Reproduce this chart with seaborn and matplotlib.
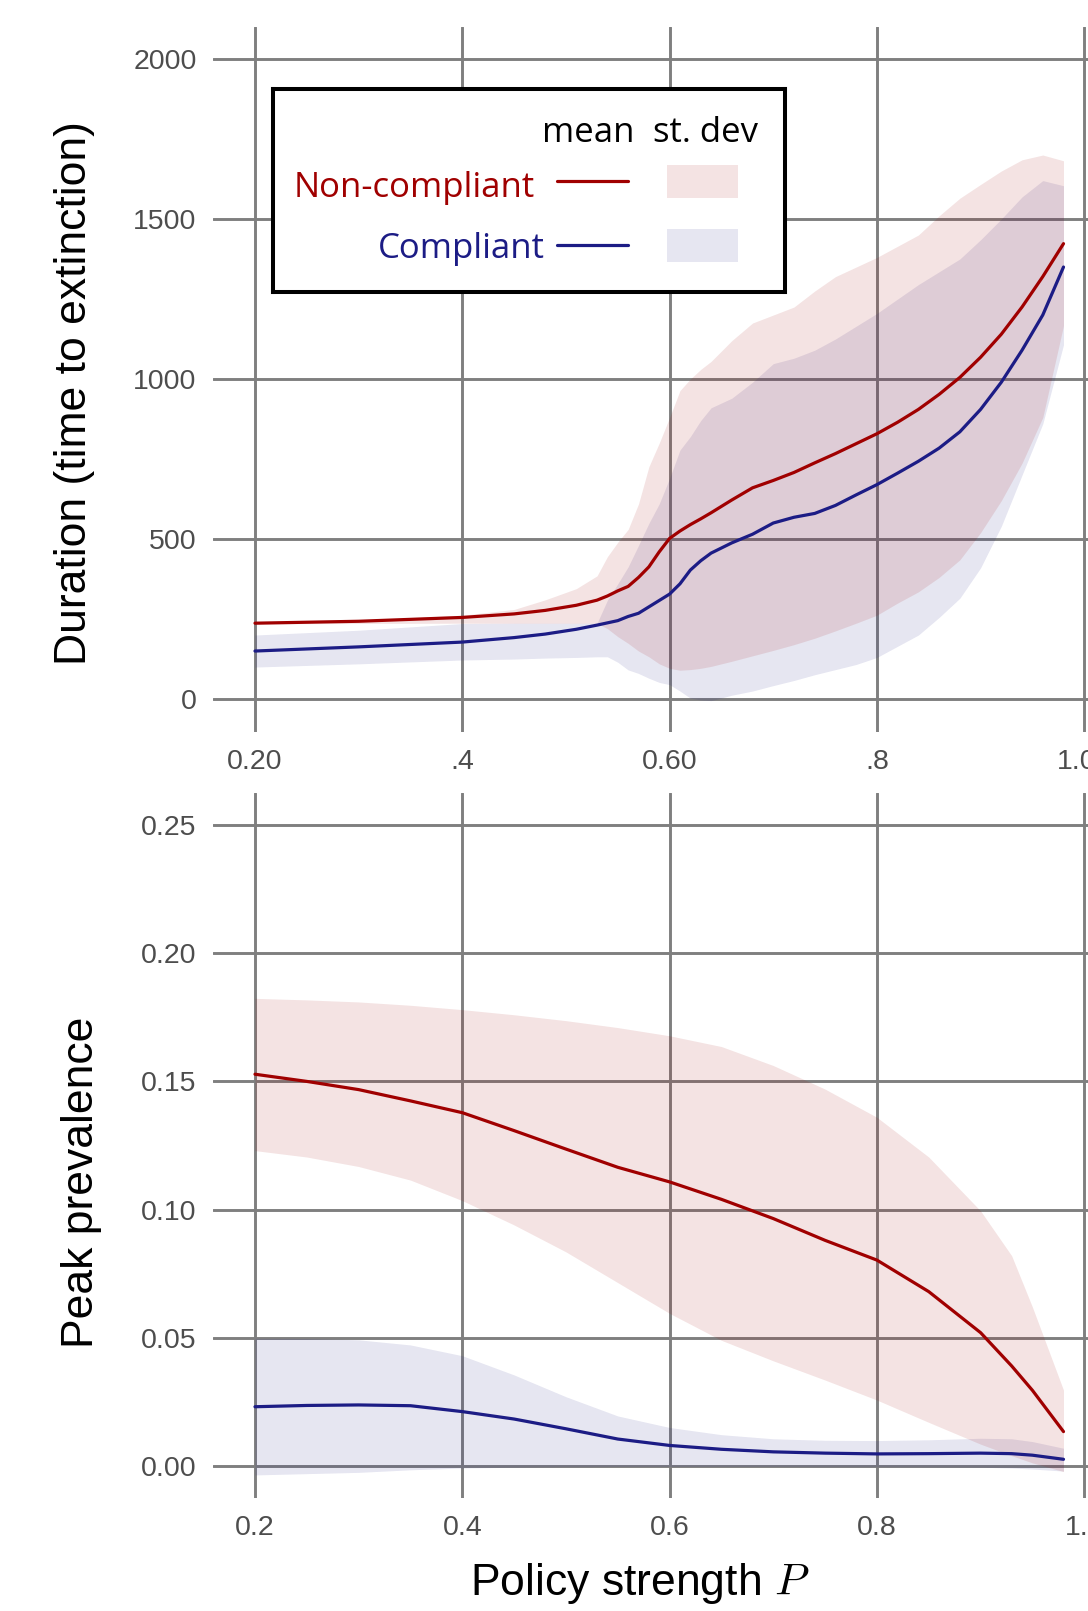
import matplotlib
matplotlib.use("Agg")
import matplotlib.pyplot as plt
import seaborn as sns
from matplotlib.patches import Rectangle
from matplotlib.lines import Line2D

# ---- duration panel (time to extinction) ----
p_dur = [0.20, 0.30, 0.40, 0.45, 0.48, 0.51, 0.53, 0.54, 0.55, 0.56, 0.57, 0.58,
         0.59, 0.60, 0.61, 0.62, 0.63, 0.64, 0.66, 0.68, 0.70, 0.72, 0.74, 0.76,
         0.78, 0.80, 0.82, 0.84, 0.86, 0.88, 0.90, 0.92, 0.94, 0.96, 0.98]
dur_nc_mean = [237, 243, 255, 266, 277, 293, 309, 322, 338, 352, 380, 413,
               460, 502, 525, 545, 563, 582, 622, 660, 683, 708, 738, 767,
               798, 829, 865, 905, 952, 1005, 1068, 1140, 1225, 1320, 1423]
dur_nc_hi = [240, 246, 262, 280, 310, 345, 385, 445, 490, 530, 610, 726,
             800, 880, 964, 1000, 1030, 1055, 1120, 1175, 1200, 1225, 1275, 1320,
             1350, 1380, 1415, 1450, 1510, 1565, 1608, 1650, 1685, 1700, 1682]
dur_nc_lo = [235, 236, 237, 237, 237, 237, 237, 220, 195, 174, 150, 132,
             110, 96, 90, 92, 96, 102, 118, 135, 152, 170, 190, 213,
             237, 262, 300, 335, 380, 435, 520, 620, 737, 880, 1167]
dur_c_mean = [150, 163, 178, 192, 203, 218, 231, 238, 245, 258, 268, 288,
              308, 328, 360, 403, 432, 456, 488, 515, 550, 568, 580, 605,
              638, 670, 706, 743, 784, 835, 905, 990, 1090, 1200, 1350]
dur_c_hi = [200, 215, 236, 237, 237, 237, 237, 309, 360, 413, 480, 549,
            610, 690, 778, 820, 870, 910, 940, 990, 1048, 1065, 1090, 1125,
            1165, 1205, 1250, 1295, 1335, 1375, 1435, 1500, 1569, 1620, 1604]
dur_c_lo = [100, 110, 122, 125, 128, 130, 132, 132, 115, 91, 80, 65,
            52, 45, 25, 3, -3, -5, 12, 25, 42, 58, 76, 92,
            108, 130, 165, 200, 255, 315, 410, 540, 700, 860, 1107]

# ---- peak prevalence panel ----
p_peak = [0.20, 0.25, 0.30, 0.35, 0.40, 0.45, 0.50, 0.55, 0.60, 0.65, 0.70,
          0.75, 0.80, 0.85, 0.90, 0.93, 0.95, 0.98]
peak_nc_mean = [0.1528, 0.1500, 0.1468, 0.1424, 0.1378, 0.1308, 0.1236, 0.1165,
                0.1108, 0.1040, 0.0965, 0.0880, 0.0803, 0.0680, 0.0520, 0.0390,
                0.0295, 0.0134]
peak_nc_hi = [0.1824, 0.1818, 0.1810, 0.1797, 0.1780, 0.1760, 0.1737, 0.1710,
              0.1678, 0.1636, 0.1562, 0.1470, 0.1360, 0.1205, 0.0995, 0.0820,
              0.0620, 0.0296]
peak_nc_lo = [0.1230, 0.1205, 0.1168, 0.1115, 0.1035, 0.0940, 0.0835, 0.0715,
              0.0595, 0.0490, 0.0410, 0.0335, 0.0257, 0.0170, 0.0085, 0.0040,
              0.0012, -0.0022]
peak_c_mean = [0.0231, 0.0236, 0.0238, 0.0235, 0.0212, 0.0183, 0.0145, 0.0105,
               0.0080, 0.0065, 0.0055, 0.0050, 0.0047, 0.0048, 0.0050, 0.0048,
               0.0042, 0.0026]
peak_c_hi = [0.0498, 0.0497, 0.0492, 0.0472, 0.0430, 0.0355, 0.0270, 0.0195,
             0.0150, 0.0122, 0.0106, 0.0100, 0.0099, 0.0102, 0.0108, 0.0106,
             0.0095, 0.0069]
peak_c_lo = [-0.0035, -0.0030, -0.0025, -0.0015, -0.0008, -0.0005, -0.0003, -0.0002,
             -0.0002, -0.0002, -0.0002, -0.0003, -0.0003, -0.0004, -0.0005, -0.0008,
             -0.0012, -0.0020]

x_ticks = [0.2, 0.4, 0.6, 0.8, 1.0]
x_labels_top = ["0.20", ".4", "0.60", ".8", "1.00"]
x_labels_bot = ["0.2", "0.4", "0.6", "0.8", "1.0"]
y_ticks_top = [0, 500, 1000, 1500, 2000]
y_ticks_bot = [0.00, 0.05, 0.10, 0.15, 0.20, 0.25]

RED = "#a00000"
BLUE = "#1c1c85"
GRID = "#7f7f7f"
TICK = "#333333"
LABEL = "#4d4d4d"
BAND_ALPHA = 0.11

sns.set_theme(style="white")
plt.rcParams["font.family"] = ["Liberation Sans", "DejaVu Sans"]
plt.rcParams["mathtext.fontset"] = "cm"

W, H = 1088, 1611
fig = plt.figure(figsize=(W / 100, H / 100), dpi=100, facecolor="white")


def px_axes(left, top, right, bottom):
    return fig.add_axes([left / W, 1 - bottom / H, (right - left) / W, (bottom - top) / H])


def style(ax, xlabels, yticks, ylabels, ylim):
    ax.set_xlim(0.1595, 1.04)
    ax.set_ylim(*ylim)
    ax.set_xticks(x_ticks, xlabels)
    ax.set_yticks(yticks, ylabels)
    ax.grid(True, color=GRID, lw=2.1)
    ax.set_axisbelow(True)
    ax.set_facecolor("white")
    for s in ax.spines.values():
        s.set_visible(False)
    ax.tick_params(length=5.8, width=2.2, color=TICK, labelcolor=LABEL, labelsize=20.5)
    ax.tick_params(axis="x", pad=6.5)
    ax.tick_params(axis="y", pad=6)
    ax.set_xlabel("")
    ax.set_ylabel("")


def draw(ax, x, nc_mean, nc_lo, nc_hi, c_mean, c_lo, c_hi):
    ax.fill_between(x, c_lo, c_hi, color=BLUE, alpha=BAND_ALPHA, lw=0)
    ax.fill_between(x, nc_lo, nc_hi, color=RED, alpha=BAND_ALPHA, lw=0)
    sns.lineplot(x=x, y=c_mean, ax=ax, color=BLUE, lw=2.3, legend=False)
    sns.lineplot(x=x, y=nc_mean, ax=ax, color=RED, lw=2.3, legend=False)


# top panel
ax1 = px_axes(213, 27, 1125.7, 732)
draw(ax1, p_dur, dur_nc_mean, dur_nc_lo, dur_nc_hi, dur_c_mean, dur_c_lo, dur_c_hi)
style(ax1, x_labels_top, y_ticks_top, [str(v) for v in y_ticks_top], (-103, 2100))

# bottom panel
ax2 = px_axes(213, 793, 1125.7, 1498)
draw(ax2, p_peak, peak_nc_mean, peak_nc_lo, peak_nc_hi, peak_c_mean, peak_c_lo, peak_c_hi)
style(ax2, x_labels_bot, y_ticks_bot, [f"{v:.2f}" for v in y_ticks_bot], (-0.0125, 0.2625))

# axis titles
fig.text(75 / W, 1 - 393 / H, "Duration (time to extinction)", rotation=90,
         ha="center", va="center", fontsize=32, color="black")
fig.text(82 / W, 1 - 1182 / H, "Peak prevalence", rotation=90,
         ha="center", va="center", fontsize=32, color="black")
fig.text(640 / W, 1 - 1584 / H, "Policy strength $P$",
         ha="center", va="center", fontsize=32, color="black")

# hand-made legend box
leg = px_axes(273, 89, 785, 292)
leg.set_xlim(0, 512)
leg.set_ylim(203, 0)
leg.set_xticks([])
leg.set_yticks([])
leg.set_facecolor("white")
for s in leg.spines.values():
    s.set_visible(True)
    s.set_color("black")
    s.set_linewidth(2.9)
lfont = dict(fontsize=25, family=["Open Sans", "DejaVu Sans"], va="baseline")
leg.text(315, 53, "mean", ha="center", color="black", **lfont)
leg.text(433, 53, "st. dev", ha="center", color="black", **lfont)
leg.text(262, 108, "Non-compliant", ha="right", color=RED, **lfont)
leg.text(272, 169, "Compliant", ha="right", color=BLUE, **lfont)
leg.add_line(Line2D([284, 355], [92, 92], color=RED, lw=2.3))
leg.add_line(Line2D([284, 355], [156, 156], color=BLUE, lw=2.3))
leg.add_patch(Rectangle((394, 76), 71, 33, color=RED, alpha=BAND_ALPHA, lw=0))
leg.add_patch(Rectangle((394, 140), 71, 33, color=BLUE, alpha=BAND_ALPHA, lw=0))

fig.savefig("out.png", dpi=100, facecolor="white")
